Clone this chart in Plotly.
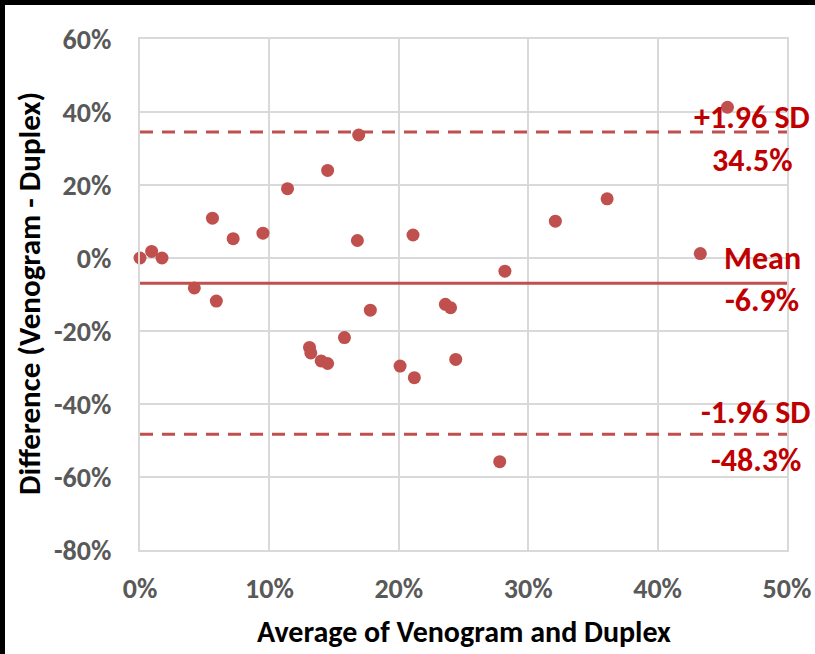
import plotly.graph_objects as go

# Bland-Altman data: average of the two methods (%) vs. difference (%)
avg_pct = [0.0, 0.9, 1.7, 4.2, 5.6, 5.9, 7.2, 9.5, 11.4, 14.5,
           16.9, 16.8, 17.8, 21.1, 23.6, 24.0, 13.1, 13.2, 14.0, 14.5,
           15.8, 20.1, 21.2, 24.4, 27.8, 45.4, 36.1, 32.1, 43.3, 28.2]
diff_pct = [0.0, 1.8, 0.0, -8.2, 10.9, -11.8, 5.3, 6.8, 19.0, 24.0,
            33.7, 4.8, -14.3, 6.3, -12.7, -13.6, -24.5, -26.0, -28.2, -28.9,
            -21.8, -29.6, -32.8, -27.8, -55.8, 41.3, 16.2, 10.1, 1.2, -3.6]

mean_diff = -6.9
upper_loa = 34.5
lower_loa = -48.3

x_tick_vals = [0, 10, 20, 30, 40, 50]
x_tick_labels = ["0%", "10%", "20%", "30%", "40%", "50%"]
y_tick_vals = [-80, -60, -40, -20, 0, 20, 40, 60]
y_tick_labels = ["-80%", "-60%", "-40%", "-20%", "0%", "20%", "40%", "60%"]

RED = "#C0504D"
LABEL_RED = "#C00000"
GRID = "#D9D9D9"
FONT = "Carlito, Calibri, Lato, sans-serif"

# plot-area geometry (pixels)
W, H = 815, 654
ML, MR, MT, MB = 140, 28, 39, 104
PW, PH = W - ML - MR, H - MT - MB

fig = go.Figure()

x_span = [x_tick_vals[0], x_tick_vals[-1]]
fig.add_trace(go.Scatter(x=x_span, y=[upper_loa] * 2, mode="lines",
                         line=dict(color=RED, width=3, dash="13px,9px"),
                         hoverinfo="skip", showlegend=False))
fig.add_trace(go.Scatter(x=x_span, y=[lower_loa] * 2, mode="lines",
                         line=dict(color=RED, width=3, dash="13px,9px"),
                         hoverinfo="skip", showlegend=False))
fig.add_trace(go.Scatter(x=x_span, y=[mean_diff] * 2, mode="lines",
                         line=dict(color=RED, width=3),
                         hoverinfo="skip", showlegend=False))
fig.add_trace(go.Scatter(x=avg_pct, y=diff_pct, mode="markers",
                         marker=dict(color=RED, size=13, line=dict(width=0)),
                         cliponaxis=False, showlegend=False))

axis_font = dict(family=FONT, size=28, color="#595959", weight="bold")
fig.update_xaxes(range=x_span, tickvals=x_tick_vals, ticktext=x_tick_labels,
                 showgrid=True, gridcolor=GRID, gridwidth=2, zeroline=False,
                 showline=True, linecolor=GRID, linewidth=2, mirror=True,
                 ticks="", ticklabelstandoff=12, tickfont=axis_font,
                 automargin=False)
fig.update_yaxes(range=[y_tick_vals[0], y_tick_vals[-1]], tickvals=y_tick_vals,
                 ticktext=y_tick_labels,
                 showgrid=True, gridcolor=GRID, gridwidth=2, zeroline=False,
                 showline=True, linecolor=GRID, linewidth=2, mirror=True,
                 ticks="", ticklabelstandoff=21, tickfont=axis_font,
                 automargin=False)

# text beside the reference lines: (text, x centre, line value, vertical offset px)
label_font = dict(family=FONT, size=32, color=LABEL_RED, weight="bold")
labels = [
    ("+1.96 SD", 47.3, upper_loa, 15),
    (f"{upper_loa:.1f}%", 47.3, upper_loa, -28),
    ("Mean", 48.1, mean_diff, 25),
    (f"{mean_diff:.1f}%", 48.1, mean_diff, -17),
    ("-1.96 SD", 47.6, lower_loa, 22),
    (f"{lower_loa:.1f}%", 47.6, lower_loa, -26),
]
for text, x, y, dy in labels:
    fig.add_annotation(x=x, y=y, text=text, showarrow=False, xanchor="center",
                       yanchor="middle", yshift=dy, font=label_font)

title_font = dict(family=FONT, size=30, color="#000000", weight="bold")
fig.add_annotation(xref="paper", yref="paper", x=0.5, y=-(651 - (MT + PH)) / PH,
                   text="Average of Venogram and Duplex", showarrow=False,
                   xanchor="center", yanchor="bottom", borderpad=0, font=title_font)
fig.add_annotation(xref="paper", yref="paper", x=-(ML - 29) / PW, y=(MT + PH - 294) / PH,
                   text="Difference (Venogram - Duplex)", showarrow=False,
                   textangle=-90, xanchor="center", yanchor="middle",
                   font=dict(title_font, size=31))

# black frame along the top and left edges
fig.add_shape(type="rect", xref="paper", yref="paper", layer="above",
              x0=-ML / PW, x1=(W - ML) / PW, y0=(PH + MT - 5) / PH, y1=(PH + MT) / PH,
              fillcolor="black", line=dict(width=0))
fig.add_shape(type="rect", xref="paper", yref="paper", layer="above",
              x0=-ML / PW, x1=-(ML - 5) / PW, y0=-MB / PH, y1=(PH + MT) / PH,
              fillcolor="black", line=dict(width=0))

fig.update_layout(width=W, height=H, margin=dict(l=ML, r=MR, t=MT, b=MB, autoexpand=False),
                  plot_bgcolor="white", paper_bgcolor="white", showlegend=False)

fig.write_html("out.html")
